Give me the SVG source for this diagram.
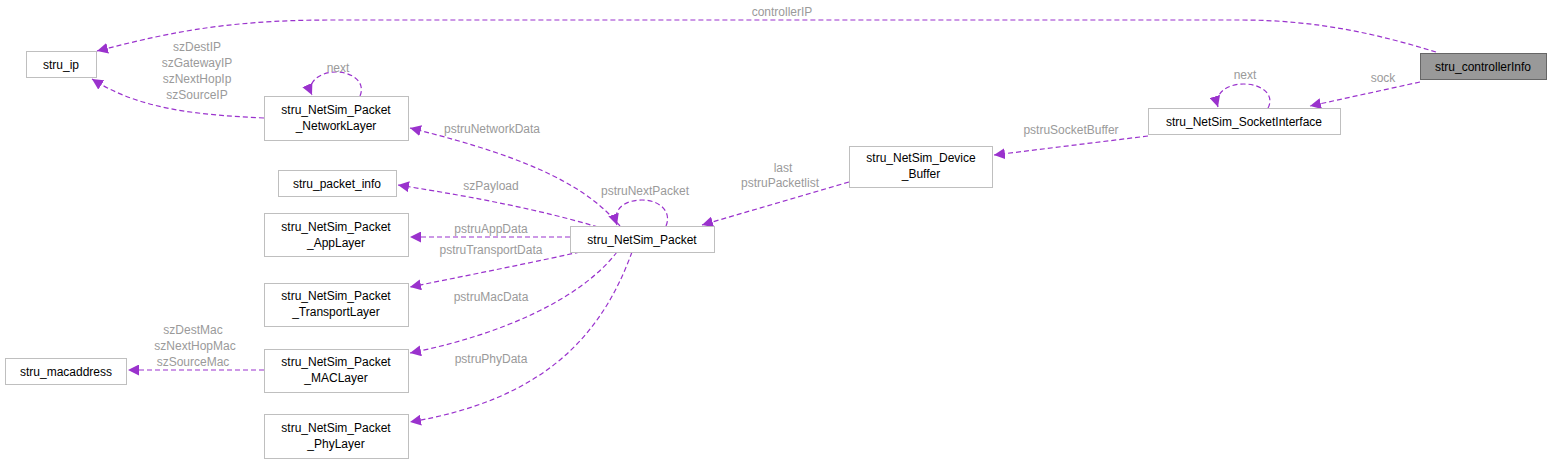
<svg xmlns="http://www.w3.org/2000/svg" width="1552" height="464" viewBox="0 0 1552 464">
<style>
.n rect{fill:#fff;stroke:#bfbfbf;stroke-width:1}
text{font-family:"Liberation Sans",Arial,sans-serif;font-size:12px}
.n text{fill:#000;text-anchor:middle}
.e path{fill:none;stroke:#9a32cd;stroke-width:1.2;stroke-dasharray:5,3}
.l{fill:#9a9a9a;text-anchor:middle}
</style>
<defs><marker id="a" viewBox="0 0 10 10" refX="10" refY="5" markerWidth="11" markerHeight="11" markerUnits="userSpaceOnUse" orient="auto"><path d="M0,0L10,5L0,10z" fill="#9a32cd"/></marker></defs>
<rect width="1552" height="464" fill="#fff"/>
<g class="e">
<path d="M1436,52 C1380,35 1320,20 1240,20 L330,20 C220,20 160,35 97,51" marker-end="url(#a)"/>
<path d="M1420,82 L1310,106" marker-end="url(#a)"/>
<path d="M1268,108 C1275,95 1262,84 1244,84 C1226,84 1214,94 1218,107" marker-end="url(#a)"/>
<path d="M1148,136 L994,155" marker-end="url(#a)"/>
<path d="M849,182 L702,225" marker-end="url(#a)"/>
<path d="M666,226 C672,212 660,200 642,200 C624,200 612,210 617,225" marker-end="url(#a)"/>
<path d="M620,226 C590,190 540,160 410,128" marker-end="url(#a)"/>
<path d="M598,227 C540,210 480,198 398,185" marker-end="url(#a)"/>
<path d="M570,237 L410,237" marker-end="url(#a)"/>
<path d="M580,252 C520,265 470,275 410,287" marker-end="url(#a)"/>
<path d="M617,252 C580,300 500,335 410,353" marker-end="url(#a)"/>
<path d="M632,252 C600,340 540,400 410,422" marker-end="url(#a)"/>
<path d="M264,370 L128,370" marker-end="url(#a)"/>
<path d="M264,118 C200,115 140,110 92,79" marker-end="url(#a)"/>
<path d="M360,96 C366,82 352,72 336,72 C320,72 306,82 312,95" marker-end="url(#a)"/>
</g>
<g class="l">
<text x="782" y="16">controllerIP</text>
<text x="1383" y="82">sock</text>
<text x="1245" y="79">next</text>
<text x="1071" y="134">pstruSocketBuffer</text>
<text x="783" y="172">last</text>
<text x="780" y="187">pstruPacketlist</text>
<text x="645" y="195">pstruNextPacket</text>
<text x="492" y="133">pstruNetworkData</text>
<text x="491" y="190">szPayload</text>
<text x="491" y="233">pstruAppData</text>
<text x="491" y="254">pstruTransportData</text>
<text x="491" y="301">pstruMacData</text>
<text x="491" y="363">pstruPhyData</text>
<text x="193" y="334">szDestMac</text>
<text x="195" y="350">szNextHopMac</text>
<text x="193" y="366">szSourceMac</text>
<text x="197" y="51">szDestIP</text>
<text x="197" y="67">szGatewayIP</text>
<text x="197" y="83">szNextHopIp</text>
<text x="197" y="99">szSourceIP</text>
<text x="338" y="72">next</text>
</g>
<g id="controllerInfo" class="n"><rect x="1420.5" y="53.5" width="126" height="26" style="fill:#999;stroke:#666"/><text x="1483" y="71">stru_controllerInfo</text></g>
<g id="ip" class="n"><rect x="26.5" y="51.5" width="70" height="26"/><text x="61" y="69">stru_ip</text></g>
<g id="socket" class="n"><rect x="1148.5" y="108.5" width="192" height="26"/><text x="1244" y="126">stru_NetSim_SocketInterface</text></g>
<g id="buffer" class="n"><rect x="849.5" y="146.5" width="143" height="41"/><text x="921" y="162">stru_NetSim_Device</text><text x="921" y="178">_Buffer</text></g>
<g id="packet" class="n"><rect x="570.5" y="226.5" width="144" height="26"/><text x="642" y="244">stru_NetSim_Packet</text></g>
<g id="network" class="n"><rect x="264.5" y="96.5" width="144" height="44"/><text x="336" y="114">stru_NetSim_Packet</text><text x="336" y="130">_NetworkLayer</text></g>
<g id="pinfo" class="n"><rect x="278.5" y="170.5" width="118" height="26"/><text x="337" y="188">stru_packet_info</text></g>
<g id="app" class="n"><rect x="264.5" y="213.5" width="144" height="43"/><text x="336" y="231">stru_NetSim_Packet</text><text x="336" y="247">_AppLayer</text></g>
<g id="transport" class="n"><rect x="264.5" y="283.5" width="144" height="43"/><text x="336" y="300">stru_NetSim_Packet</text><text x="336" y="316">_TransportLayer</text></g>
<g id="mac" class="n"><rect x="264.5" y="349.5" width="144" height="43"/><text x="336" y="366">stru_NetSim_Packet</text><text x="336" y="382">_MACLayer</text></g>
<g id="phy" class="n"><rect x="264.5" y="414.5" width="144" height="44"/><text x="336" y="432">stru_NetSim_Packet</text><text x="336" y="448">_PhyLayer</text></g>
<g id="macaddr" class="n"><rect x="5.5" y="358.5" width="121" height="26"/><text x="66" y="376">stru_macaddress</text></g>
</svg>
